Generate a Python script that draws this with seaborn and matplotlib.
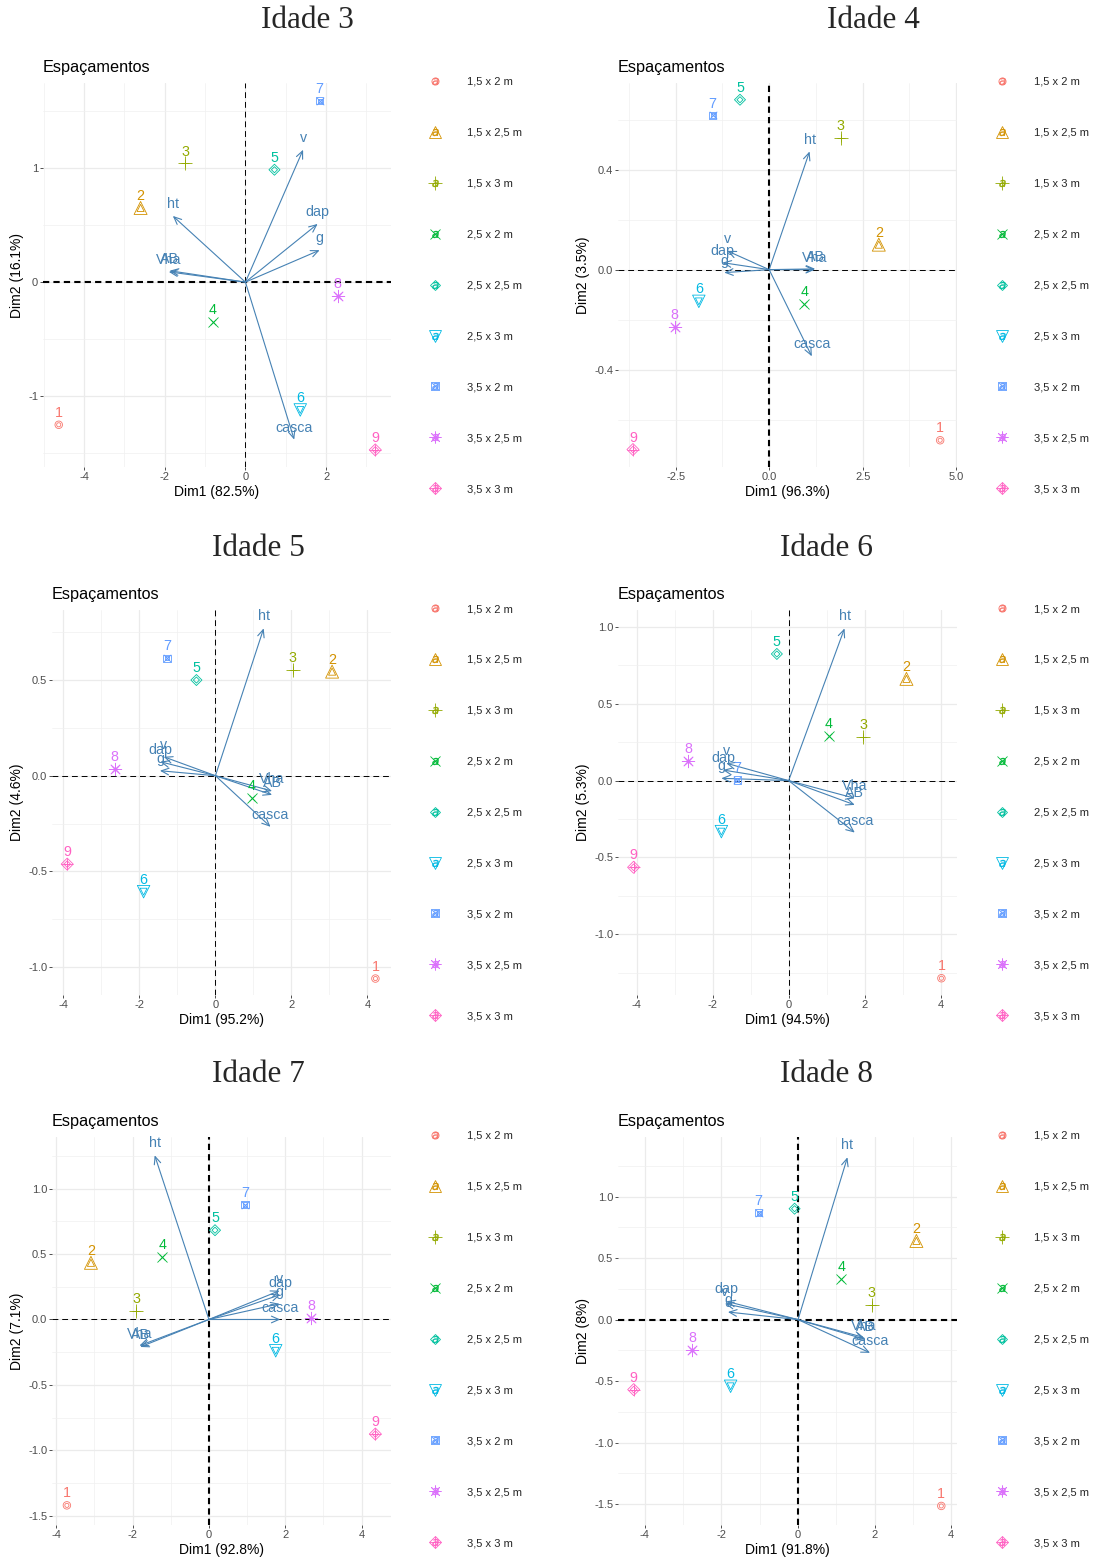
import matplotlib
matplotlib.use("Agg")
import matplotlib.pyplot as plt
import seaborn as sns
from matplotlib.lines import Line2D
from matplotlib.legend_handler import HandlerTuple
from matplotlib.ticker import MultipleLocator, FormatStrFormatter

# ---------------- data ----------------
espacamentos = ["1,5 x 2 m", "1,5 x 2,5 m", "1,5 x 3 m", "2,5 x 2 m", "2,5 x 2,5 m",
                "2,5 x 3 m", "3,5 x 2 m", "3,5 x 2,5 m", "3,5 x 3 m"]
rotulos = ["1", "2", "3", "4", "5", "6", "7", "8", "9"]
variaveis = ["dap", "ht", "g", "v", "AB", "Vha", "casca"]
idades = ["Idade 3", "Idade 4", "Idade 5", "Idade 6", "Idade 7", "Idade 8"]
dim1_pct = [82.5, 96.3, 95.2, 94.5, 92.8, 91.8]
dim2_pct = [16.1, 3.5, 4.6, 5.3, 7.1, 8.0]

ind_dim1_i3 = [-4.63, -2.60, -1.49, -0.81, 0.72, 1.36, 1.84, 2.29, 3.22]
ind_dim2_i3 = [-1.25, 0.65, 1.04, -0.345, 0.985, -1.12, 1.59, -0.12, -1.47]
var_dim1_i3 = [1.79, -1.80, 1.84, 1.43, -1.88, -1.90, 1.21]
var_dim2_i3 = [0.51, 0.58, 0.28, 1.16, 0.10, 0.09, -1.38]

ind_dim1_i4 = [4.57, 2.93, 1.91, 0.94, -0.78, -1.88, -1.51, -2.53, -3.64]
ind_dim2_i4 = [-0.683, 0.10, 0.527, -0.137, 0.68, -0.127, 0.617, -0.229, -0.72]
var_dim1_i4 = [-1.25, 1.08, -1.20, -1.12, 1.23, 1.22, 1.14]
var_dim2_i4 = [0.028, 0.473, -0.012, 0.075, 0.003, 0.0, -0.347]

ind_dim1_i5 = [4.21, 3.07, 2.04, 0.96, -0.50, -1.89, -1.27, -2.65, -3.90]
ind_dim2_i5 = [-1.06, 0.544, 0.552, -0.118, 0.50, -0.606, 0.613, 0.033, -0.462]
var_dim1_i5 = [-1.45, 1.27, -1.46, -1.36, 1.49, 1.49, 1.45]
var_dim2_i5 = [0.073, 0.77, 0.026, 0.099, -0.10, -0.08, -0.267]

ind_dim1_i6 = [4.02, 3.10, 1.96, 1.06, -0.31, -1.77, -1.35, -2.65, -4.08]
ind_dim2_i6 = [-1.286, 0.662, 0.286, 0.29, 0.824, -0.332, 0.004, 0.128, -0.564]
var_dim1_i6 = [-1.73, 1.47, -1.77, -1.64, 1.74, 1.74, 1.74]
var_dim2_i6 = [0.069, 0.99, 0.015, 0.113, -0.158, -0.115, -0.338]

ind_dim1_i7 = [-3.72, -3.09, -1.91, -1.22, 0.16, 1.75, 0.95, 2.68, 4.36]
ind_dim2_i7 = [-1.42, 0.433, 0.066, 0.478, 0.682, -0.239, 0.878, 0.008, -0.875]
var_dim1_i7 = [1.87, -1.42, 1.85, 1.85, -1.80, -1.82, 1.87]
var_dim2_i7 = [0.19, 1.254, 0.12, 0.22, -0.21, -0.20, 0.0]

ind_dim1_i8 = [3.74, 3.09, 1.93, 1.13, -0.09, -1.76, -1.03, -2.77, -4.29]
ind_dim2_i8 = [-1.515, 0.64, 0.117, 0.333, 0.902, -0.542, 0.87, -0.249, -0.569]
var_dim1_i8 = [-1.87, 1.29, -1.83, -1.91, 1.75, 1.72, 1.88]
var_dim2_i8 = [0.149, 1.32, 0.062, 0.13, -0.16, -0.145, -0.27]

ind_dim1 = [ind_dim1_i3, ind_dim1_i4, ind_dim1_i5, ind_dim1_i6, ind_dim1_i7, ind_dim1_i8]
ind_dim2 = [ind_dim2_i3, ind_dim2_i4, ind_dim2_i5, ind_dim2_i6, ind_dim2_i7, ind_dim2_i8]
var_dim1 = [var_dim1_i3, var_dim1_i4, var_dim1_i5, var_dim1_i6, var_dim1_i7, var_dim1_i8]
var_dim2 = [var_dim2_i3, var_dim2_i4, var_dim2_i5, var_dim2_i6, var_dim2_i7, var_dim2_i8]

# ---------------- style / layout ----------------
W, H = 1096, 1559
sns.set_theme(style="white")
plt.rcParams['font.family'] = ['Liberation Sans', 'DejaVu Sans']
plt.rcParams['axes.unicode_minus'] = False

cores = ["#F8766D", "#D39200", "#93AA00", "#00BA38", "#00C19F",
         "#00B9E3", "#619CFF", "#DB72FB", "#FF61C3"]
# marker layers (marker, size in px)
formas = [
    [('o', 7.5)],
    [('^', 13.0)],
    [('+', 14.0)],
    [('x', 10.0)],
    [('D', 7.8)],
    [('v', 12.5)],
    [('s', 7.5), ('x', 7.5)],
    [((8, 2, 0), 12.5)],
    [('D', 8.5), ('+', 12.0)],
]
steel = "#4682B4"

panel_px = [(43, 83, 391, 467), (618, 83, 957, 467),
            (52, 610, 391, 995), (618, 610, 957, 995),
            (52, 1137, 391, 1525), (618, 1137, 957, 1525)]
xlims = [(-5.02, 3.61), (-4.04, 5.02), (-4.30, 4.62), (-4.49, 4.43), (-4.11, 4.77), (-4.70, 4.15)]
ylims = [(-1.62, 1.745), (-0.79, 0.747), (-1.146, 0.866), (-1.395, 1.11), (-1.57, 1.394), (-1.67, 1.485)]
xstep = [2, 2.5, 2, 2, 2, 2]
ystep = [1, 0.4, 0.5, 0.5, 0.5, 0.5]
xfmt = ['%d', '%.1f', '%d', '%d', '%d', '%d']
yfmt = ['%d', '%.1f', '%.1f', '%.1f', '%.1f', '%.1f']
hthick = [True, False, False, False, False, True]
vthick = [False, True, False, False, True, True]
title_px = [(307, 21), (873, 21), (258, 548), (826, 548), (258, 1075), (826, 1075)]
legend_px = [(429.5, 77), (996.5, 77), (429.5, 604), (996.5, 604),
             (429.5, 1131), (996.5, 1131)]


def pt(px):
    return px * 72.0 / 100.0


fig = plt.figure(figsize=(W / 100, H / 100), dpi=100)

for k in range(6):
    l, t, r, b = panel_px[k]
    ax = fig.add_axes([l / W, 1 - b / H, (r - l) / W, (b - t) / H])
    ax.set_xlim(*xlims[k])
    ax.set_ylim(*ylims[k])
    ax.xaxis.set_major_locator(MultipleLocator(xstep[k]))
    ax.xaxis.set_minor_locator(MultipleLocator(xstep[k] / 2))
    ax.yaxis.set_major_locator(MultipleLocator(ystep[k]))
    ax.yaxis.set_minor_locator(MultipleLocator(ystep[k] / 2))
    ax.xaxis.set_major_formatter(FormatStrFormatter(xfmt[k]))
    ax.yaxis.set_major_formatter(FormatStrFormatter(yfmt[k]))
    ax.grid(which='major', color='#EBEBEB', lw=0.9)
    ax.grid(which='minor', color='#F0F0F0', lw=0.5)
    ax.set_axisbelow(True)
    for s in ax.spines.values():
        s.set_visible(False)
    ax.tick_params(which='major', length=2, width=0.6, color='#333333',
                   labelsize=8, labelcolor='#4D4D4D', pad=1.5,
                   bottom=True, left=True)
    ax.tick_params(which='minor', length=0)

    # reference lines
    if hthick[k]:
        ax.axhline(0, color='black', lw=1.5, dashes=(3, 2), zorder=1)
    else:
        ax.axhline(0, color='black', lw=0.7, dashes=(6, 4), zorder=1)
    if vthick[k]:
        ax.axvline(0, color='black', lw=1.5, dashes=(3, 2), zorder=1)
    else:
        ax.axvline(0, color='black', lw=0.7, dashes=(6, 4), zorder=1)

    # individuals
    for g in range(9):
        x, y, c = ind_dim1[k][g], ind_dim2[k][g], cores[g]
        for (m, sz) in formas[g]:
            for sc in (1.0, 0.55):
                ms = matplotlib.markers.MarkerStyle(m)
                if ms.is_filled():
                    sns.scatterplot(x=[x], y=[y], marker=m, s=pt(sz * sc) ** 2,
                                    facecolor='none', edgecolor=c, linewidth=0.6,
                                    legend=False, ax=ax, zorder=4)
                else:
                    sns.scatterplot(x=[x], y=[y], marker=m, s=pt(sz * sc) ** 2,
                                    color=c, linewidth=0.6,
                                    legend=False, ax=ax, zorder=4)
        ax.annotate(rotulos[g], (x, y), xytext=(0, 8.6), textcoords='offset points',
                    ha='center', va='center', color=c, fontsize=10.3, zorder=5)

    # variables
    for v in range(len(variaveis)):
        vx, vy = var_dim1[k][v], var_dim2[k][v]
        ax.annotate("", xy=(vx, vy), xytext=(0, 0),
                    arrowprops=dict(arrowstyle='->,head_length=0.45,head_width=0.2',
                                    color=steel, lw=0.8, shrinkA=0, shrinkB=0),
                    zorder=3)
        ax.annotate(variaveis[v], (vx, vy), xytext=(0, 8.6), textcoords='offset points',
                    ha='center', va='center', color=steel, fontsize=10.3, zorder=5)

    ax.set_xlabel(f"Dim1 ({dim1_pct[k]:g}%)", fontsize=10, color='black', labelpad=2)
    ax.set_ylabel(f"Dim2 ({dim2_pct[k]:g}%)", fontsize=10, color='black', labelpad=3)
    ax.annotate("Espaçamentos", (0, 1), xycoords='axes fraction', xytext=(0, 11.2),
                textcoords='offset points', ha='left', va='center', fontsize=11.7,
                color='black')

    # legend
    handles = []
    for g in range(9):
        parts = []
        for (m, sz) in formas[g]:
            parts.append(Line2D([], [], ls='none', marker=m, ms=pt(sz * 0.95),
                                mfc='none', mec=cores[g], mew=0.6, color=cores[g]))
        parts.append(Line2D([], [], ls='none', marker='$a$', ms=5,
                            mfc=cores[g], mec=cores[g], mew=0.3, color=cores[g]))
        handles.append(tuple(parts))
    lx, ly = legend_px[k]
    ax.legend(handles, espacamentos, loc='upper left',
              bbox_to_anchor=(lx / W, 1 - ly / H), bbox_transform=fig.transFigure,
              frameon=False, fontsize=8, labelspacing=3.68, handlelength=1.0,
              handletextpad=2.35, borderpad=0, borderaxespad=0,
              handler_map={tuple: HandlerTuple(ndivide=1)})

    tx, ty = title_px[k]
    fig.text(tx / W, 1 - ty / H, idades[k], ha='center', va='center',
             fontsize=22.5, family=['Liberation Serif', 'DejaVu Serif'])

fig.savefig("out.png", dpi=100)
